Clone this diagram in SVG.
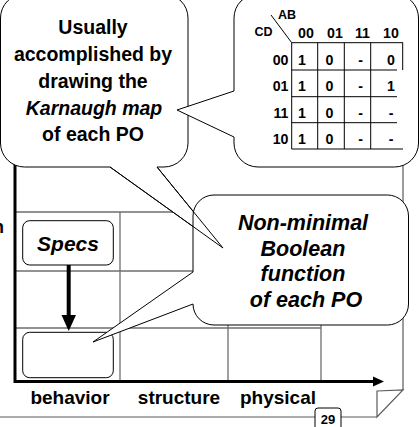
<svg xmlns="http://www.w3.org/2000/svg" width="419" height="427" viewBox="0 0 419 427">
  <defs>
    <style>
      text { font-family: "Liberation Sans", Arial, sans-serif; font-weight: bold; fill: #000; }
      .mid { text-anchor: middle; }
      .end { text-anchor: end; }
      .it { font-style: italic; }
      .grid { stroke: #6e6e6e; stroke-width: 1.3; fill: none; }
      .page { stroke: #5a5a5a; stroke-width: 1.2; fill: none; }
      .bubble { fill: #fff; stroke: #000; stroke-width: 1; }
      .outline { fill: none; stroke: #000; stroke-width: 1; }
      .box { fill: #fff; stroke: #000; stroke-width: 1; }
      .kline { stroke: #000; stroke-width: 1; fill: none; }
      .call { font-size: 19.5px; }
      .big { font-size: 21.5px; }
      .axis { font-size: 19px; }
      .km { font-size: 14.2px; }
      .km-small { font-size: 12.5px; }
    </style>
  </defs>

  <!-- page frame with folded corner and slide number -->
  <g id="page">
    <line class="page" x1="403" y1="150" x2="403" y2="390"/>
    <line class="page" x1="0" y1="417" x2="377" y2="417"/>
    <polygon points="377,391 403,390 377,417" fill="#fff" stroke="#5a5a5a" stroke-width="1.2"/>
    <path d="M315,428 V411 Q315,408 318,408 H338 Q341,408 341,411 V428" fill="#fff" stroke="#000" stroke-width="1"/>
    <text class="mid" x="328" y="424" font-size="13">29</text>
  </g>

  <!-- design-space grid -->
  <g id="grid">
    <line class="grid" x1="15" y1="212" x2="321" y2="212"/>
    <line class="grid" x1="15" y1="271" x2="321" y2="271"/>
    <line class="grid" x1="15" y1="328" x2="321" y2="328"/>
    <line class="grid" x1="120" y1="212" x2="120" y2="381"/>
    <line class="grid" x1="228" y1="212" x2="228" y2="381"/>
    <line class="grid" x1="321" y1="212" x2="321" y2="381"/>
  </g>

  <!-- axes -->
  <g id="axes">
    <line x1="15" y1="150" x2="15" y2="383" stroke="#000" stroke-width="3"/>
    <line x1="14" y1="381.5" x2="374" y2="381.5" stroke="#000" stroke-width="3"/>
    <polygon points="373,376.5 384,381.5 373,386.5" fill="#000"/>
    <text x="-7" y="233" font-size="18">n</text>
  </g>

  <g id="axis-labels">
    <text class="mid axis" x="70" y="404">behavior</text>
    <text class="mid axis" x="179" y="404">structure</text>
    <text class="mid axis" x="278" y="404">physical</text>
  </g>

  <g id="specs">
    <rect class="box" x="22.7" y="220.7" width="90.6" height="44.3" rx="7"/>
    <text class="mid it" x="68" y="251" font-size="21">Specs</text>
  </g>

  <g id="boolean-function">
    <rect class="box" x="22.7" y="332.3" width="90.6" height="45.4" rx="7"/>
  </g>

  <g id="connectors">
    <line x1="68.7" y1="265" x2="68.7" y2="317" stroke="#000" stroke-width="4"/>
    <polygon points="61.5,315 76,315 68.7,331" fill="#000"/>
  </g>

  <!-- callout: how the map is obtained -->
  <g id="callout-kmap-note">
    <path id="usually-shape" class="bubble" d="M24.5,-6 H164 A24,24 0 0 1 188,18 V143 A24,24 0 0 1 164,167 H157 L223,248 L110,167 H24.5 A24,24 0 0 1 0.5,143 V18 A24,24 0 0 1 24.5,-6 Z"/>
    <text class="mid call" x="93" y="34">Usually</text>
    <text class="mid call" x="93" y="61">accomplished by</text>
    <text class="mid call" x="93" y="88">drawing the</text>
    <text class="mid call it" x="94" y="114.5">Karnaugh map</text>
    <text class="mid call" x="93" y="141">of each PO</text>
  </g>

  <!-- callout: resulting function -->
  <g id="callout-function">
    <path class="bubble" d="M214,195 H387.5 A21,21 0 0 1 408.5,216 V304 A21,21 0 0 1 387.5,325 H214 A21,21 0 0 1 193,304 L93,342 L193,272 V216 A21,21 0 0 1 214,195 Z"/>
    <text class="mid big it" x="303" y="230">Non-minimal</text>
    <text class="mid big it" x="303" y="255.7">Boolean</text>
    <text class="mid big it" x="303" y="281.4">function</text>
    <text class="mid big it" x="306" y="307">of each PO</text>
  </g>

  <!-- outline of the first callout's tail shown over the second -->
  <path class="outline" d="M157,167 L223,248 L110,167"/>

  <!-- callout: Karnaugh map -->
  <g id="callout-map">
    <path class="bubble" d="M258,-6 H394.5 A24,24 0 0 1 418.5,18 V143 A24,24 0 0 1 394.5,167 H258 A24,24 0 0 1 234,143 V137 L177,110 L234,91 V18 A24,24 0 0 1 258,-6 Z"/>
    <line class="kline" x1="271" y1="15" x2="291.7" y2="42.7"/>
    <text class="mid km-small" x="287" y="18.5">AB</text>
    <text class="mid km-small" x="263.5" y="36">CD</text>
    <text class="mid km" x="306" y="37.5">00</text>
    <text class="mid km" x="335" y="37.5">01</text>
    <text class="mid km" x="362.5" y="37.5">11</text>
    <text class="mid km" x="391" y="37.5">10</text>
    <text class="end km" x="288.5" y="65">00</text>
    <text class="end km" x="288.5" y="91.3">01</text>
    <text class="end km" x="288.5" y="117.7">11</text>
    <text class="end km" x="288.5" y="144">10</text>
    <!-- map cells -->
    <line class="kline" x1="291.7" y1="42.7" x2="403" y2="42.7"/>
    <line class="kline" x1="291.7" y1="70" x2="397" y2="70"/>
    <line class="kline" x1="291.7" y1="96.7" x2="397" y2="96.7"/>
    <line class="kline" x1="291.7" y1="122.7" x2="397" y2="122.7"/>
    <line class="kline" x1="291.7" y1="149" x2="403" y2="149"/>
    <line class="kline" x1="291.7" y1="42.7" x2="291.7" y2="149"/>
    <line class="kline" x1="317.7" y1="42.7" x2="317.7" y2="149"/>
    <line class="kline" x1="344.3" y1="42.7" x2="344.3" y2="149"/>
    <line class="kline" x1="370.7" y1="42.7" x2="370.7" y2="149"/>
    <line class="kline" x1="402.7" y1="42.7" x2="402.7" y2="70"/>
    <g class="km">
      <text class="mid" x="302" y="65">1</text>
      <text class="mid" x="329.5" y="65">0</text>
      <text class="mid" x="360.5" y="65">-</text>
      <text class="mid" x="391" y="65">0</text>
      <text class="mid" x="302" y="91.3">1</text>
      <text class="mid" x="329.5" y="91.3">0</text>
      <text class="mid" x="360.5" y="91.3">-</text>
      <text class="mid" x="391" y="91.3">1</text>
      <text class="mid" x="302" y="117.7">1</text>
      <text class="mid" x="329.5" y="117.7">0</text>
      <text class="mid" x="360.5" y="117.7">-</text>
      <text class="mid" x="391" y="117.7">-</text>
      <text class="mid" x="302" y="144">1</text>
      <text class="mid" x="329.5" y="144">0</text>
      <text class="mid" x="360.5" y="144">-</text>
      <text class="mid" x="391" y="144">-</text>
    </g>
  </g>
</svg>
